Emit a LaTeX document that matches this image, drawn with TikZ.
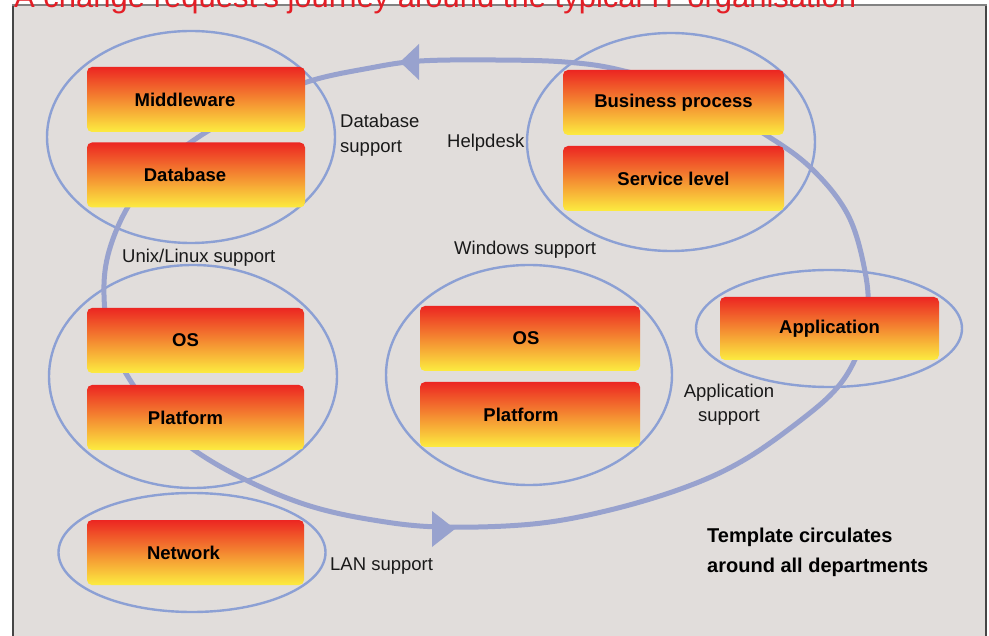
\documentclass[tikz,border=0pt]{standalone}
\usepackage{fontspec}
\setmainfont{Liberation Sans}
\usetikzlibrary{shapes.geometric}
\definecolor{panel}{RGB}{225,221,219}
\definecolor{framec}{RGB}{70,70,70}
\definecolor{topframe}{RGB}{130,130,130}
\definecolor{ellc}{RGB}{140,160,212}
\definecolor{loopc}{RGB}{152,162,206}
\definecolor{btop}{RGB}{236,38,34}
\definecolor{bmid}{RGB}{246,140,40}
\definecolor{bbot}{RGB}{252,236,64}
\definecolor{titlered}{RGB}{228,30,38}
\definecolor{txt}{RGB}{25,25,25}
\begin{document}
\begin{tikzpicture}[x=1pt,y=-1pt,
  ring/.style={ellipse, draw=ellc, line width=2.4pt, inner sep=0pt},
  box/.style={rounded corners=5pt, top color=btop, middle color=bmid, bottom color=bbot,
    minimum height=65pt, inner sep=0pt, text=black, font=\fontsize{18.5}{20}\selectfont\bfseries},
  lab/.style={inner sep=0pt, text=txt, font=\fontsize{18.5}{24.5}\selectfont},
  biglab/.style={inner sep=0pt, text=black, font=\fontsize{20}{30}\selectfont\bfseries},
  loopline/.style={draw=loopc, line width=5pt},
  headc/.style={fill=loopc}]
\useasboundingbox (0,0) rectangle (989,636);
% panel
\fill[panel] (13,5) rectangle (986,640);
\draw[framec, line width=1.5pt] (13,640) -- (13,5);
\draw[framec, line width=1.5pt] (986,5) -- (986,640);
\draw[topframe, line width=2.5pt] (12.25,5) -- (986.75,5);
% title (clipped by the page top, as in the reference)
\node[anchor=base west, inner sep=0pt, text=titlered, font=\fontsize{31}{31}\selectfont] (title) at (14,8)
  {A change request's journey around the typical IT organisation};
% rings
\node[ring, minimum width=288pt, minimum height=212pt] (e1) at (191,137) {};
\node[ring, minimum width=288pt, minimum height=218pt] (e2) at (671,142) {};
\node[ring, minimum width=288pt, minimum height=223pt] (e3) at (193,376.5) {};
\node[ring, minimum width=286pt, minimum height=220pt] (e4) at (529,375) {};
\node[ring, minimum width=266pt, minimum height=117pt] (e5) at (829,328.5) {};
\node[ring, minimum width=267pt, minimum height=119pt] (e6) at (192,552.5) {};
% loop
\coordinate (L1) at (197,452);
\coordinate (L2) at (250,482);
\coordinate (L3) at (310,506);
\coordinate (L4) at (373,520);
\coordinate (L5) at (440,527);
\coordinate (L6) at (533,524);
\coordinate (L7) at (610,510);
\coordinate (L8) at (686,487);
\coordinate (L9) at (744,460);
\coordinate (L10) at (801,420);
\coordinate (L11) at (837,388);
\coordinate (L12) at (857,355);
\coordinate (L13) at (867,318);
\coordinate (L14) at (866,277);
\coordinate (L15) at (849,217);
\coordinate (L16) at (813,170);
\coordinate (L17) at (766,135);
\coordinate (L18) at (690,92);
\coordinate (L19) at (620,70);
\coordinate (L20) at (565,62);
\coordinate (L21) at (495,60);
\coordinate (L22) at (420,61);
\coordinate (L23) at (370,68);
\coordinate (L24) at (307,82);
\coordinate (L25) at (250,108);
\coordinate (L26) at (197,138);
\coordinate (L27) at (152,174);
\coordinate (L28) at (125,212);
\coordinate (L29) at (108,255);
\coordinate (L30) at (104,295);
\coordinate (L31) at (110,340);
\coordinate (L32) at (130,380);
\coordinate (L33) at (160,420);
\draw[loopline] plot[smooth cycle, tension=0.6] coordinates {(L1) (L2) (L3) (L4) (L5) (L6) (L7) (L8) (L9) (L10) (L11) (L12) (L13) (L14) (L15) (L16) (L17) (L18) (L19) (L20) (L21) (L22) (L23) (L24) (L25) (L26) (L27) (L28) (L29) (L30) (L31) (L32) (L33)};
% arrow heads
\coordinate (hb) at (455,529);
\coordinate (ht) at (400,62);
\fill[headc] (hb) -- ++(-23,-18) -- ++(0,36) -- cycle;
\fill[headc] (ht) -- ++(19,-18) -- ++(0,36) -- cycle;
% boxes
\node[box, minimum width=218pt] (mw) at (196,99.5) {Middleware\hspace*{22pt}};
\node[box, minimum width=218pt] (db) at (196,175) {Database\hspace*{22pt}};
\node[box, minimum width=217pt] (os1) at (195.5,340.5) {OS\hspace*{20pt}};
\node[box, minimum width=217pt] (pf1) at (195.5,417.5) {Platform\hspace*{20pt}};
\node[box, minimum width=217pt] (nw) at (195.5,552.5) {Network\hspace*{24pt}};
\node[box, minimum width=221pt] (bp) at (673.5,102.5) {Business process};
\node[box, minimum width=221pt] (sl) at (673.5,178.5) {Service level};
\node[box, minimum width=220pt] (os2) at (530,338.5) {OS\hspace*{8pt}};
\node[box, minimum width=220pt] (pf2) at (530,414.5) {Platform\hspace*{18pt}};
\node[box, minimum width=219pt, minimum height=63pt] (app) at (829.5,328.5) {Application};
% labels
\node[lab, anchor=west, align=left] (dbs) at (340,135) {Database\\support};
\node[lab, anchor=west] (hd) at (447,143) {Helpdesk};
\node[lab, anchor=west] (ux) at (122,258) {Unix/Linux support};
\node[lab, anchor=west] (ws) at (454,250) {Windows support};
\node[lab, align=center] (aps) at (729,404.5) {Application\\support};
\node[lab, anchor=west] (lan) at (330,566) {LAN support};
\node[biglab, anchor=west, align=left] (tpl) at (707,552) {Template circulates\\around all departments};
\end{tikzpicture}
\end{document}
